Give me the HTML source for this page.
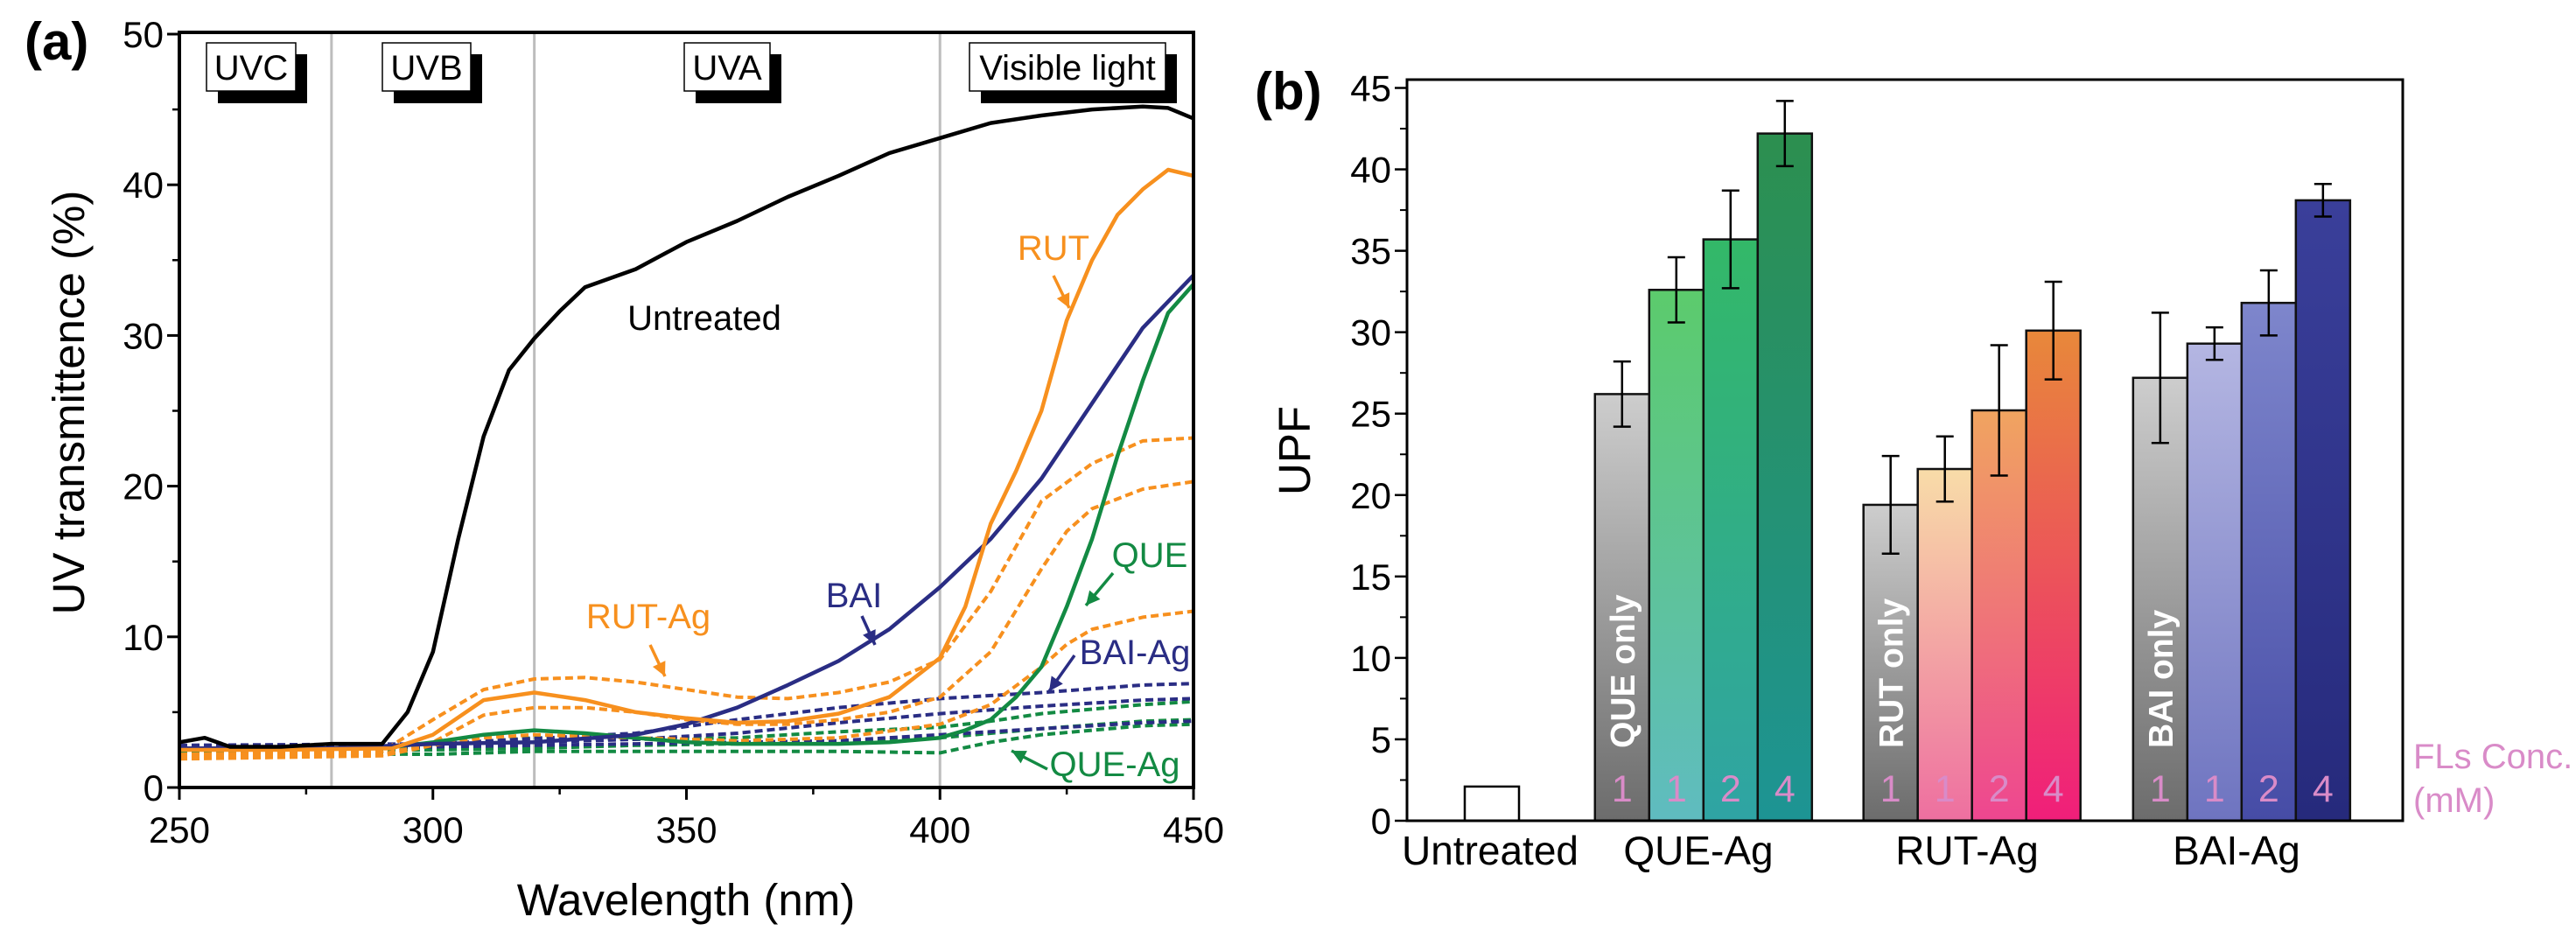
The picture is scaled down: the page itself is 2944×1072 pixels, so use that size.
<!DOCTYPE html>
<html><head><meta charset="utf-8"><style>
html,body{margin:0;padding:0;background:#fff;}
svg{display:block;font-family:"Liberation Sans",Arial,sans-serif;}
</style></head><body>
<svg id="fig" width="2944" height="1072" viewBox="0 0 2944 1072" xmlns="http://www.w3.org/2000/svg">
<defs>
<linearGradient id="gGray" x1="0" y1="0" x2="0" y2="1"><stop offset="0" stop-color="#cdcdcd"/><stop offset="1" stop-color="#6c6c6c"/></linearGradient>
<linearGradient id="gQ1" x1="0" y1="0" x2="0" y2="1"><stop offset="0" stop-color="#5ccb6c"/><stop offset="1" stop-color="#5fbcc0"/></linearGradient>
<linearGradient id="gQ2" x1="0" y1="0" x2="0" y2="1"><stop offset="0" stop-color="#33b868"/><stop offset="1" stop-color="#2fa4a4"/></linearGradient>
<linearGradient id="gQ3" x1="0" y1="0" x2="0" y2="1"><stop offset="0" stop-color="#2c8f4f"/><stop offset="1" stop-color="#1d9494"/></linearGradient>
<linearGradient id="gR1" x1="0" y1="0" x2="0" y2="1"><stop offset="0" stop-color="#f8dca8"/><stop offset="1" stop-color="#ee6fa0"/></linearGradient>
<linearGradient id="gR2" x1="0" y1="0" x2="0" y2="1"><stop offset="0" stop-color="#f0a460"/><stop offset="1" stop-color="#ee4690"/></linearGradient>
<linearGradient id="gR3" x1="0" y1="0" x2="0" y2="1"><stop offset="0" stop-color="#e8883a"/><stop offset="1" stop-color="#f01e7a"/></linearGradient>
<linearGradient id="gB1" x1="0" y1="0" x2="0" y2="1"><stop offset="0" stop-color="#b4b6e2"/><stop offset="1" stop-color="#6e74c0"/></linearGradient>
<linearGradient id="gB2" x1="0" y1="0" x2="0" y2="1"><stop offset="0" stop-color="#7e86cc"/><stop offset="1" stop-color="#464ca6"/></linearGradient>
<linearGradient id="gB3" x1="0" y1="0" x2="0" y2="1"><stop offset="0" stop-color="#3a3f9a"/><stop offset="1" stop-color="#262a7c"/></linearGradient>
</defs>
<g id="pa"></g>
<g id="pb"></g>
</svg>
<script>
// ---------- Panel (a) data ----------
const wlUntreated = [250,255,260,270,280,285,290,295,300,305,310,315,320,325,330,340,350,360,370,380,390,400,410,420,430,440,445,450];
const tUntreated  = [3.0,3.3,2.7,2.7,2.9,2.9,2.9,5.0,9.0,16.5,23.3,27.7,29.8,31.6,33.2,34.4,36.2,37.6,39.2,40.6,42.1,43.1,44.1,44.6,45.0,45.2,45.1,44.4];
const wlRUT = [250,270,292,300,310,320,330,340,350,360,370,380,390,400,405,410,415,420,425,430,435,440,445,450];
const tRUT  = [2.5,2.5,2.6,3.5,5.8,6.3,5.8,5.0,4.6,4.3,4.4,4.9,6.0,8.6,12,17.5,21,25,31,35,38,39.7,41,40.6];
const wlBAI = [250,280,300,320,340,350,360,370,380,390,400,410,420,430,440,450];
const tBAI  = [2.6,2.6,2.9,3.0,3.5,4.2,5.3,6.8,8.4,10.5,13.3,16.5,20.5,25.5,30.5,34.0];
const wlQUE = [250,290,300,310,320,330,340,350,360,370,380,390,400,405,410,415,420,425,430,435,440,445,450];
const tQUE  = [2.6,2.6,3.0,3.5,3.8,3.6,3.3,3.0,2.9,2.9,2.9,3.0,3.3,3.8,4.5,6.0,8.0,12,16.5,22,27,31.5,33.4];
const wlRUTAg1 = [250,290,300,310,320,330,340,350,360,370,380,390,400,410,415,420,430,440,450];
const tRUTAg1  = [2.2,2.4,4.5,6.5,7.2,7.3,7.0,6.5,6.0,5.9,6.3,7.0,8.5,13,16,19,21.5,23,23.2];
const wlRUTAg2 = [250,290,300,310,320,330,340,350,360,370,380,390,400,410,420,425,430,440,450];
const tRUTAg2  = [2.0,2.2,3.0,4.8,5.3,5.3,5.0,4.5,4.2,4.2,4.5,5.0,6.0,9.0,14.5,17,18.5,19.8,20.3];
const wlRUTAg3 = [250,290,300,310,320,340,360,380,400,410,420,425,430,440,450];
const tRUTAg3  = [1.9,2.1,2.8,3.3,3.5,3.3,3.1,3.3,4.2,5.5,8.0,9.5,10.5,11.3,11.7];
const wlBAIAg = [250,300,340,360,380,400,420,440,450];
const tBAIAg1 = [2.8,2.9,3.6,4.5,5.3,5.9,6.3,6.8,6.9];
const tBAIAg2 = [2.7,2.8,3.2,3.6,4.3,4.9,5.4,5.8,5.9];
const tBAIAg3 = [2.6,2.7,2.9,3.0,3.1,3.5,3.9,4.3,4.4];
const wlQUEAg = [250,300,320,340,360,380,400,410,420,440,450];
const tQUEAg1 = [2.5,2.8,3.3,3.2,3.3,3.7,4.0,4.4,4.9,5.5,5.7];
const tQUEAg2 = [2.4,2.5,2.6,2.8,2.9,3.0,3.3,3.6,3.9,4.4,4.5];
const tQUEAg3 = [2.3,2.2,2.4,2.4,2.4,2.4,2.3,3.0,3.5,4.1,4.2];
const xTicksA = [250,300,350,400,450];
const yTicksA = [0,10,20,30,40,50];
const regionLines = [280,320,400];

// ---------- Panel (b) data ----------
const groupNames = ["QUE-Ag","RUT-Ag","BAI-Ag"];
const untreatedUPF = 2.1;
const upfQUE = [26.2,32.6,35.7,42.2];
const errQUE = [2.0,2.0,3.0,2.0];
const upfRUT = [19.4,21.6,25.2,30.1];
const errRUT = [3.0,2.0,4.0,3.0];
const upfBAI = [27.2,29.3,31.8,38.1];
const errBAI = [4.0,1.0,2.0,1.0];
const concLabels = ["1","1","2","4"];
const onlyLabels = ["QUE only","RUT only","BAI only"];
const yTicksB = [0,5,10,15,20,25,30,35,40,45];

const NS="http://www.w3.org/2000/svg";
function mk(parent,tag,attrs,text){const e=document.createElementNS(NS,tag);for(const k in attrs)e.setAttribute(k,attrs[k]);if(text!==undefined)e.textContent=text;parent.appendChild(e);return e;}

// ===== Panel A =====
const pa=document.getElementById('pa');
const AL=205,AR=1364,AT=37,AB=900;
const xA=w=>AL+(w-250)*(AR-AL)/200;
const yA=v=>AB-v*(AB-39)/50;
regionLines.forEach(w=>{const l=mk(pa,'line',{x1:xA(w),x2:xA(w),y1:AT,y2:AB,stroke:'#bdbdbd','stroke-width':3});

});
const regions=[["UVC",236,102],["UVB",437,101],["UVA",782,98],["Visible light",1108,224]];
regions.forEach(r=>{const g=mk(pa,'g',{});


mk(g,'rect',{x:r[1]+13,y:62,width:r[2],height:56,fill:'#000'});
mk(g,'rect',{x:r[1],y:49,width:r[2],height:55,fill:'#fff',stroke:'#000','stroke-width':1.5});
mk(g,'text',{x:r[1]+r[2]/2,y:91,'font-size':40,'text-anchor':'middle'},r[0]);});
function series(xs,ys,color,dash,name){let d='';xs.forEach((w,i)=>{d+=(i?'L':'M')+xA(w).toFixed(1)+','+yA(ys[i]).toFixed(1);});
const p=mk(pa,'path',{d:d,fill:'none',stroke:color,'stroke-width':dash?4:4.5,'stroke-linejoin':'round'});
if(dash)p.setAttribute('stroke-dasharray','9,5');

}
const OR='#f7901e',NV='#2a2d84',GR='#138a43';
series(wlQUEAg,tQUEAg3,GR,true,'que-ag-line-3');
series(wlQUEAg,tQUEAg2,GR,true,'que-ag-line-2');
series(wlQUEAg,tQUEAg1,GR,true,'que-ag-line-1');
series(wlBAIAg,tBAIAg3,NV,true,'bai-ag-line-3');
series(wlBAIAg,tBAIAg2,NV,true,'bai-ag-line-2');
series(wlBAIAg,tBAIAg1,NV,true,'bai-ag-line-1');
series(wlRUTAg3,tRUTAg3,OR,true,'rut-ag-line-3');
series(wlRUTAg2,tRUTAg2,OR,true,'rut-ag-line-2');
series(wlRUTAg1,tRUTAg1,OR,true,'rut-ag-line-1');
series(wlQUE,tQUE,GR,false,'que-line');
series(wlBAI,tBAI,NV,false,'bai-line');
series(wlRUT,tRUT,OR,false,'rut-line');
series(wlUntreated,tUntreated,'#000',false,'untreated-line');
const fa=mk(pa,'rect',{x:AL,y:AT,width:AR-AL,height:AB-AT,fill:'none',stroke:'#000','stroke-width':4});


xTicksA.forEach(w=>{mk(pa,'line',{x1:xA(w),x2:xA(w),y1:AB,y2:AB+14,stroke:'#000','stroke-width':3});
const t=mk(pa,'text',{x:xA(w),y:963,'font-size':42,'text-anchor':'middle'},String(w));

});
[275,325,375,425].forEach(w=>mk(pa,'line',{x1:xA(w),x2:xA(w),y1:AB,y2:AB+8,stroke:'#000','stroke-width':2.5}));
yTicksA.forEach(v=>{mk(pa,'line',{x1:AL-14,x2:AL,y1:yA(v),y2:yA(v),stroke:'#000','stroke-width':3});
const t=mk(pa,'text',{x:AL-18,y:yA(v)+15,'font-size':42,'text-anchor':'end'},String(v));

});
[5,15,25,35,45].forEach(v=>mk(pa,'line',{x1:AL-8,x2:AL,y1:yA(v),y2:yA(v),stroke:'#000','stroke-width':2.5}));
let t;
t=mk(pa,'text',{x:784,y:1046,'font-size':51,'text-anchor':'middle'},'Wavelength (nm)');

t=mk(pa,'text',{x:0,y:0,'font-size':51,'text-anchor':'middle',transform:'translate(96,460) rotate(-90)'},'UV transmittence (%)');

t=mk(pa,'text',{x:28,y:68,'font-size':60,'font-weight':'bold'},'(a)');

const anns=[["Untreated",805,377,'#000',null],["RUT",1204,297,OR,[1204,315,1222,352]],["QUE",1314,648,GR,[1272,655,1241,692]],
["BAI",976,694,NV,[985,704,1000,737]],["RUT-Ag",741,718,OR,[743,737,760,773]],["BAI-Ag",1297,759,NV,[1228,749,1199,790]],["QUE-Ag",1274,887,GR,[1197,879,1156,858]]];
anns.forEach(a=>{const g=mk(pa,'g',{});


mk(g,'text',{x:a[1],y:a[2],'font-size':40,'text-anchor':'middle',fill:a[3]},a[0]);
if(a[4]){const [x1,y1,x2,y2]=a[4];mk(g,'line',{x1:x1,y1:y1,x2:x2,y2:y2,stroke:a[3],'stroke-width':3.5});
const ang=Math.atan2(y2-y1,x2-x1),L=16,W=8;
const bx=x2-L*Math.cos(ang),by=y2-L*Math.sin(ang);
mk(g,'polygon',{points:`${x2},${y2} ${bx-W*Math.sin(ang)},${by+W*Math.cos(ang)} ${bx+W*Math.sin(ang)},${by-W*Math.cos(ang)}`,fill:a[3]});}});

// ===== Panel B =====
const pb=document.getElementById('pb');
const BL=1608,BR=2746,BT=91,BB=938;
const yB=v=>BB-v*(BB-100.5)/45;
const slotW=62;
const xSlot=s=>1674+s*slotW;
const groupStart=[2.4,7.35,12.32];
const groupVals=[upfQUE,upfRUT,upfBAI],groupErr=[errQUE,errRUT,errBAI];
const fills=[["url(#gGray)","url(#gQ1)","url(#gQ2)","url(#gQ3)"],["url(#gGray)","url(#gR1)","url(#gR2)","url(#gR3)"],["url(#gGray)","url(#gB1)","url(#gB2)","url(#gB3)"]];
let r=mk(pb,'rect',{x:xSlot(0),y:yB(untreatedUPF),width:slotW,height:BB-yB(untreatedUPF),fill:'#fff',stroke:'#000','stroke-width':2.5});

groupVals.forEach((vals,g)=>{vals.forEach((v,j)=>{const x=xSlot(groupStart[g]+j);
const b=mk(pb,'rect',{x:x,y:yB(v),width:slotW,height:BB-yB(v),fill:fills[g][j],stroke:'#111','stroke-width':2.5});


const e=groupErr[g][j],cx=x+slotW/2;
const eb=mk(pb,'path',{d:`M${cx},${yB(v+e)}V${yB(v-e)}M${cx-10},${yB(v+e)}H${cx+10}M${cx-10},${yB(v-e)}H${cx+10}`,stroke:'#000','stroke-width':2.5,fill:'none'});


const n=mk(pb,'text',{x:cx,y:916,'font-size':43,'text-anchor':'middle',fill:'#d98bc8'},concLabels[j]);

});
const cx=xSlot(groupStart[g])+slotW/2+14;
const o=mk(pb,'text',{x:0,y:0,'font-size':39,'font-weight':'bold',fill:'#fff',transform:`translate(${cx},855) rotate(-90)`},onlyLabels[g]);

});
const fb=mk(pb,'rect',{x:BL,y:BT,width:BR-BL,height:BB-BT,fill:'none',stroke:'#000','stroke-width':3});

yTicksB.forEach(v=>{mk(pb,'line',{x1:BL-14,x2:BL,y1:yB(v),y2:yB(v),stroke:'#000','stroke-width':2.5});
const tt=mk(pb,'text',{x:BL-18,y:yB(v)+15,'font-size':42,'text-anchor':'end'},String(v));


if(v<45)mk(pb,'line',{x1:BL-8,x2:BL,y1:yB(v+2.5),y2:yB(v+2.5),stroke:'#000','stroke-width':2});});
const cats=[["Untreated",1703],["QUE-Ag",1941],["RUT-Ag",2248],["BAI-Ag",2556]];
cats.forEach(c=>{const tt=mk(pb,'text',{x:c[1],y:988,'font-size':46,'text-anchor':'middle'},c[0]);

});
t=mk(pb,'text',{x:0,y:0,'font-size':51,'text-anchor':'middle',transform:'translate(1497,515) rotate(-90)'},'UPF');

t=mk(pb,'text',{x:1434,y:125,'font-size':60,'font-weight':'bold'},'(b)');

t=mk(pb,'text',{x:2758,y:878,'font-size':40,fill:'#d98bc8'},'FLs Conc.');

t=mk(pb,'text',{x:2758,y:928,'font-size':40,fill:'#d98bc8'},'(mM)');

</script>
</body></html>
